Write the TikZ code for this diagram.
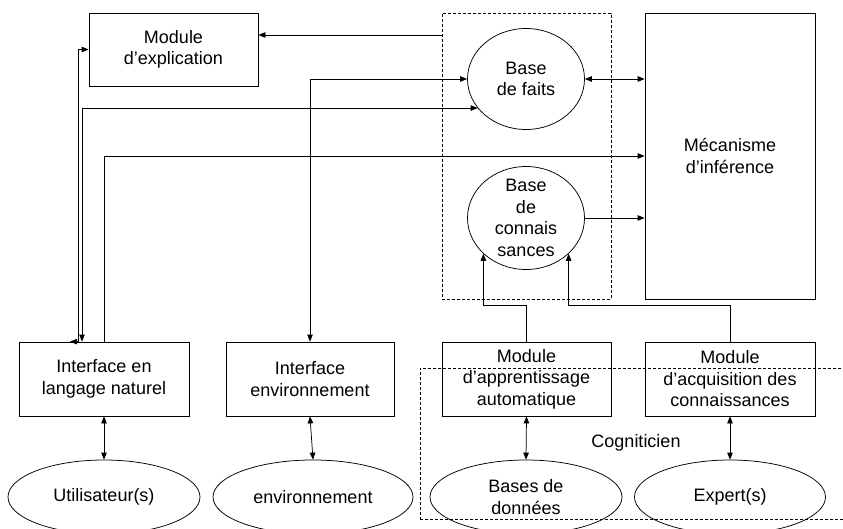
\documentclass[tikz,border=0pt]{standalone}
\usepackage{fontspec}
\setmainfont{Liberation Sans}
\usetikzlibrary{arrows.meta,shapes.geometric,calc}
\begin{document}
\begin{tikzpicture}[x=1pt,y=-1pt,
  line width=0.75pt,
  >={Triangle[length=7pt,width=5.5pt]},
  box/.style={draw, rectangle, inner sep=0pt, align=center, font=\fontsize{18}{21.5}\selectfont},
  ell/.style={draw, ellipse, inner sep=0pt, align=center, font=\fontsize{18}{21.5}\selectfont},
  txt/.style={align=center, font=\fontsize{18}{21.5}\selectfont, inner sep=0pt},
  dbox/.style={draw, dash pattern=on 3pt off 2pt, rectangle, inner sep=0pt}]
\useasboundingbox (0,0) rectangle (843,529);

% groups
\node[dbox, minimum width=169pt, minimum height=286pt] (KB) at (526.5,156) {};
\node[dbox, minimum width=440pt, minimum height=151pt] (COG) at (640,443.5) {};
\node[txt] (COGt) at (636,443) {Cogniticien};

% boxes
\node[box, minimum width=169pt, minimum height=73pt] (ME) at (173.5,49.5) {Module\\d’explication};
\node[box, minimum width=170pt, minimum height=286pt] (MI) at (730,156) {Mécanisme\\d’inférence};
\node[box, minimum width=170pt, minimum height=74pt] (ILN) at (104,379) {Interface en\\langage naturel};
\node[box, minimum width=168pt, minimum height=74pt] (IE) at (310,379) {Interface\\environnement};
\node[box, minimum width=169pt, minimum height=74pt] (MA) at (526.5,379) {Module\\d’apprentissage\\automatique};
\node[box, minimum width=170pt, minimum height=74pt] (MAQ) at (730,379) {Module\\d’acquisition des\\connaissances};

% ellipses
\node[ell, minimum width=117pt, minimum height=101pt] (BF) at (526,79) {Base\\de faits};
\node[ell, minimum width=117pt, minimum height=103pt] (BC) at (526,218) {};
\node[txt] (BCt) at (BC.center) {Base\\de\\connais\\sances};
\node[ell, minimum width=192pt, minimum height=74pt] (U) at (104,497) {Utilisateur(s)};
\node[ell, minimum width=200pt, minimum height=74pt] (ENV) at (313,497) {environnement};
\node[ell, minimum width=192pt, minimum height=74pt] (BD) at (526,497) {Bases de\\données};
\node[ell, minimum width=191pt, minimum height=74pt] (EX) at (730,497) {Expert(s)};

% connectors
\draw[->] (KB.west |- 0,35) -- (ME.east |- 0,35);
\draw[<->] (IE.north) |- (BF.west);
\draw[<->] ($(ILN.north)+(-22,0)$) |- (BF.211);
\draw[->] (ILN.north) |- (MI.west);
\draw[<->] ($(ILN.north)+(-34,0)$) -- ($(ILN.north)+(-26,0)$) |- (ME.west);
\draw[<->] (BF.east) -- (BF.east -| MI.west);
\draw[->] (BC.east) -- (BC.east -| MI.west);
\draw[->] (MA.north) -- ++(0,-36) -| (BC.220);
\draw[->] (MAQ.north) -- ++(0,-36) -| (BC.320);

\draw[<->] (ILN.south) -- (U.north);
\draw[<->] (IE.south) -- (ENV.north);
\draw[<->] (MA.south) -- (BD.north);
\draw[<->] (MAQ.south) -- (EX.north);
\end{tikzpicture}
\end{document}
